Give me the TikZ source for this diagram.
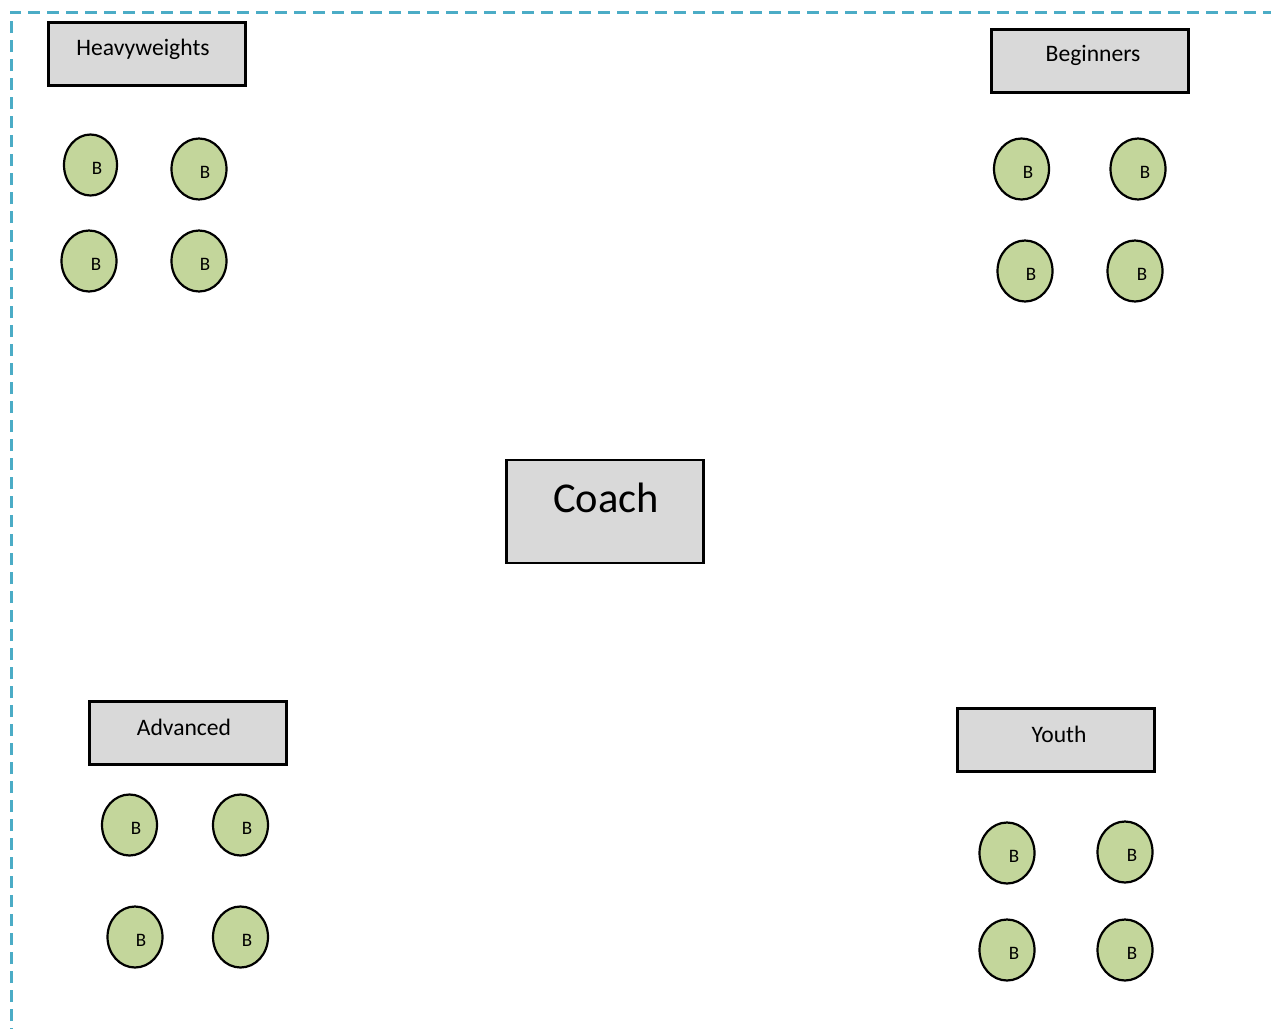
\documentclass[tikz,border=0pt]{standalone}
\usepackage{fontspec}
\setmainfont{Carlito}
\definecolor{boxgray}{HTML}{D9D9D9}
\definecolor{ballgreen}{HTML}{C3D69B}
\definecolor{dashblue}{HTML}{4BACC6}
\tikzset{
  groupbox/.style={draw=black, line width=2.2pt, fill=boxgray, minimum width=197pt, minimum height=63pt, inner sep=0pt},
  coachbox/.style={draw=black, line width=2.2pt, fill=boxgray, minimum width=197pt, minimum height=103pt, inner sep=0pt},
  grouplabel/.style={font=\fontsize{23.6}{26}\selectfont, inner sep=0pt},
  ball/.style={ellipse, draw=black, line width=2.2pt, fill=ballgreen, minimum width=55pt, minimum height=61pt, inner sep=0pt},
  balllabel/.style={font=\fontsize{19}{22}\selectfont, inner sep=0pt},
  frame/.style={draw=dashblue, line width=3pt, dash pattern=on 12pt off 7pt}
}
\usetikzlibrary{shapes.geometric}
\begin{document}
\begin{tikzpicture}[x=1pt,y=-1pt]
\useasboundingbox (0,0) rectangle (1271,1028);
\clip (0,0) rectangle (1271,1028);
\coordinate (fb) at (11,1040);
\coordinate (fc) at (11,12);
\coordinate (fr) at (1280,12);
\draw[frame] (fb) -- (fc) -- (fr);

% group boxes
\node[groupbox] (hwbox) at (147,54) {};
\node[grouplabel] (hwlab) at (143,49) {Heavyweights};
\node[groupbox] (bgbox) at (1090,61) {};
\node[grouplabel] (bglab) at (1093,55) {Beginners};
\node[groupbox] (adbox) at (188,733) {};
\node[grouplabel] (adlab) at (184,727) {Advanced};
\node[groupbox] (ytbox) at (1056,740) {};
\node[grouplabel] (ytlab) at (1059,734) {Youth};

% coach
\node[coachbox] (coachbox) at (605,511.5) {};
\node[font=\fontsize{42.5}{46}\selectfont, inner sep=0pt] (coachlab) at (606,498) {Coach};

% balls - heavyweights
\node[ball, minimum width=53pt] (b1) at (90.5,165) {};
\node[balllabel] at (97,168) {B};
\node[ball] (b2) at (199,169) {};
\node[balllabel] at (205,172) {B};
\node[ball] (b3) at (89,261) {};
\node[balllabel] at (96,264) {B};
\node[ball] (b4) at (199,261) {};
\node[balllabel] at (205,264) {B};

% balls - beginners
\node[ball] (b5) at (1021.5,169) {};
\node[balllabel] at (1028,172) {B};
\node[ball] (b6) at (1138,169) {};
\node[balllabel] at (1145,172) {B};
\node[ball] (b7) at (1025,271) {};
\node[balllabel] at (1031,274) {B};
\node[ball] (b8) at (1135,271) {};
\node[balllabel] at (1142,274) {B};

% balls - advanced
\node[ball] (b9) at (129.5,825) {};
\node[balllabel] at (136,828) {B};
\node[ball] (b10) at (240.5,825) {};
\node[balllabel] at (247,828) {B};
\node[ball] (b11) at (135,937) {};
\node[balllabel] at (141,940) {B};
\node[ball] (b12) at (240.5,937) {};
\node[balllabel] at (247,940) {B};

% balls - youth
\node[ball] (b13) at (1007,853) {};
\node[balllabel] at (1014,856) {B};
\node[ball] (b14) at (1125,852) {};
\node[balllabel] at (1132,855) {B};
\node[ball] (b15) at (1007,950) {};
\node[balllabel] at (1014,953) {B};
\node[ball] (b16) at (1125,950) {};
\node[balllabel] at (1132,953) {B};
\end{tikzpicture}
\end{document}
